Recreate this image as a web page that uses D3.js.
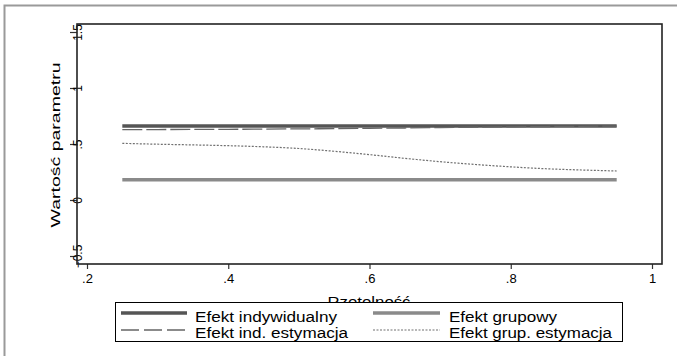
<!DOCTYPE html>
<html>
<head>
<meta charset="utf-8">
<script src="https://cdn.jsdelivr.net/npm/d3@7"></script>
<style>
body { margin: 0; background: #fff; }
text { font-family: "Liberation Sans", Arial, sans-serif; }
</style>
</head>
<body>
<svg id="chart" width="677" height="356"></svg>
<script>
// rzetelnosc (x) i wartosci parametru
var rzetelnosc = [0.25, 0.30, 0.35, 0.40, 0.45, 0.50, 0.55, 0.60, 0.65, 0.70, 0.75, 0.80, 0.85, 0.90, 0.95];
var efektInd = [0.66, 0.66, 0.66, 0.66, 0.66, 0.66, 0.66, 0.66, 0.66, 0.66, 0.66, 0.66, 0.66, 0.66, 0.66];
var efektGrup = [0.18, 0.18, 0.18, 0.18, 0.18, 0.18, 0.18, 0.18, 0.18, 0.18, 0.18, 0.18, 0.18, 0.18, 0.18];
var efektIndEst = [0.628, 0.629, 0.630, 0.631, 0.633, 0.635, 0.637, 0.640, 0.643, 0.647, 0.650, 0.653, 0.656, 0.658, 0.660];
var efektGrupEst = [0.506, 0.498, 0.492, 0.485, 0.475, 0.46, 0.435, 0.405, 0.372, 0.342, 0.317, 0.296, 0.279, 0.268, 0.259];
var xTicks = [0.2, 0.4, 0.6, 0.8, 1];
var yTicks = [-0.5, 0, 0.5, 1, 1.5];
var legendLabels = ["Efekt indywidualny", "Efekt grupowy", "Efekt ind. estymacja", "Efekt grup. estymacja"];

var svg = d3.select("#chart");

// outer frame
svg.append("rect")
	.attr("x", 4.5).attr("y", 5.5)
	.attr("width", 700).attr("height", 400)
	.attr("fill", "none")
	.attr("stroke", "#9a9a9a")
	.attr("stroke-width", 2);

var plot = {left: 77, right: 662, top: 24, bottom: 264};

var x = d3.scaleLinear().domain([0.2, 1]).range([87, 652]);
var y = d3.scaleLinear().domain([-0.5, 1.5]).range([256, 32]);

var fmt = function(d) { return d3.format("")(d).replace(/^0\./, ".").replace(/^-0\./, "-."); };

// x axis
var xAxis = svg.append("g")
	.attr("transform", "translate(0," + plot.bottom + ")")
	.call(d3.axisBottom(x).tickValues(xTicks).tickSize(5).tickFormat(fmt));
xAxis.select(".domain").remove();
xAxis.selectAll("line").attr("stroke", "#333").attr("stroke-width", 1.2);
xAxis.selectAll("text")
	.attr("y", 19).attr("dy", 0)
	.attr("font-size", 13).attr("fill", "#000");

// y axis
var yAxis = svg.append("g")
	.attr("transform", "translate(" + plot.left + ",0)")
	.call(d3.axisLeft(y).tickValues(yTicks).tickSize(7).tickFormat(fmt));
yAxis.select(".domain").remove();
yAxis.selectAll("line").attr("stroke", "#333").attr("stroke-width", 1.2);
yAxis.selectAll("text")
	.attr("transform", "rotate(-90)")
	.attr("x", 0).attr("y", 5).attr("dy", 0)
	.attr("text-anchor", "middle")
	.attr("font-size", 12).attr("fill", "#000");

// plot frame
svg.append("rect")
	.attr("x", plot.left).attr("y", plot.top)
	.attr("width", plot.right - plot.left)
	.attr("height", plot.bottom - plot.top)
	.attr("fill", "none")
	.attr("stroke", "#222")
	.attr("stroke-width", 1.6);

// axis titles
svg.append("text")
	.attr("transform", "translate(60," + ((plot.top + plot.bottom) / 2 + 1) + ") rotate(-90)")
	.attr("text-anchor", "middle")
	.attr("font-size", 12.5)
	.attr("textLength", 165)
	.attr("lengthAdjust", "spacingAndGlyphs")
	.text("Wartość parametru");

svg.append("text")
	.attr("x", 369).attr("y", 307)
	.attr("text-anchor", "middle")
	.attr("font-size", 14)
	.attr("textLength", 83)
	.attr("lengthAdjust", "spacingAndGlyphs")
	.text("Rzetelność");

var series = [
	{name: legendLabels[0], values: efektInd, color: "#555555", width: 3.5, dash: null},
	{name: legendLabels[1], values: efektGrup, color: "#8a8a8a", width: 3.5, dash: null},
	{name: legendLabels[2], values: efektIndEst, color: "#666666", width: 1.3, dash: "20,4"},
	{name: legendLabels[3], values: efektGrupEst, color: "#707070", width: 1.2, dash: "2,1.5"}
];

var line = d3.line()
	.curve(d3.curveMonotoneX)
	.x(function(d) { return x(d[0]); })
	.y(function(d) { return y(d[1]); });

series.forEach(function(s) {
	svg.append("path")
		.datum(rzetelnosc.map(function(r, i) { return [r, s.values[i]]; }))
		.attr("d", line)
		.attr("fill", "none")
		.attr("stroke", s.color)
		.attr("stroke-width", s.width)
		.attr("stroke-dasharray", s.dash);
});

// legend
svg.append("rect")
	.attr("x", 115.5).attr("y", 302.5)
	.attr("width", 507).attr("height", 39)
	.attr("fill", "#fff")
	.attr("stroke", "#000")
	.attr("stroke-width", 1);

var legendPos = [
	{x1: 121, x2: 187, tx: 195, ly: 313, ty: 322, len: 142},
	{x1: 373, x2: 440, tx: 449, ly: 313, ty: 322, len: 108},
	{x1: 121, x2: 187, tx: 195, ly: 330, ty: 338, len: 153},
	{x1: 373, x2: 440, tx: 449, ly: 330, ty: 338, len: 163}
];

series.forEach(function(s, i) {
	var p = legendPos[i];
	svg.append("line")
		.attr("x1", p.x1).attr("x2", p.x2)
		.attr("y1", p.ly).attr("y2", p.ly)
		.attr("stroke", s.color)
		.attr("stroke-width", s.width)
		.attr("stroke-dasharray", i == 2 ? "18,5" : s.dash);
	svg.append("text")
		.attr("x", p.tx).attr("y", p.ty)
		.attr("font-size", 14)
		.attr("textLength", p.len)
		.attr("lengthAdjust", "spacingAndGlyphs")
		.text(s.name);
});
</script>
</body>
</html>
